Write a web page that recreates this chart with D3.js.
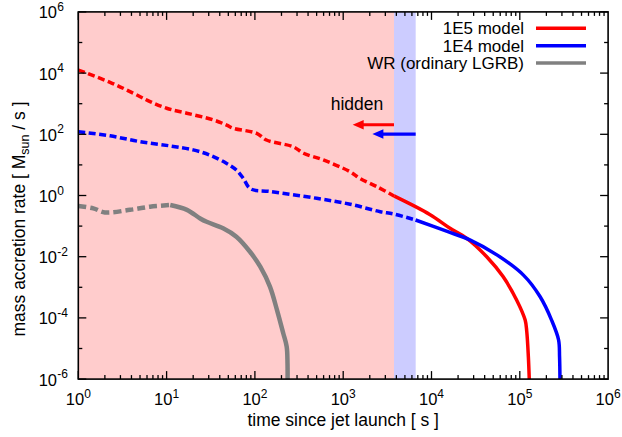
<!DOCTYPE html>
<html><head><meta charset="utf-8">
<script src="https://cdn.jsdelivr.net/npm/d3@7"></script>
<style>
html,body{margin:0;padding:0;background:#fff;}
svg{display:block;font-family:"Liberation Sans",Arial,Helvetica,sans-serif;}
</style></head>
<body><svg id="c" width="622" height="437"></svg>
<script>
// ---- data ----
const seriesNames = ["1E5 model", "1E4 model", "WR (ordinary LGRB)"];
const seriesColors = ["#ff0000", "#0000ff", "#808080"];
// time [s] and mass accretion rate [Msun/s]
const t1E5 = [1, 2.29, 4.2, 6.5, 10, 16.9, 33.9, 47.9, 56.9, 105, 135, 272, 355, 596, 1194, 1549, 2400, 3800, 9550, 16200, 25100, 42200, 64600, 92300, 115000, 120000, 125000, 128000];
const r1E5 = [1.26e4, 5.0e3, 2.2e3, 1.17e3, 710, 490, 295, 200, 158, 107, 65, 39, 24, 14.5, 6.0, 3.6, 1.95, 0.95, 0.24, 0.085, 0.040, 0.010, 2.24e-3, 3.8e-4, 8.5e-5, 3.5e-5, 5.4e-6, 1e-6];
const t1E4 = [1, 2.29, 5.0, 11, 20, 30.9, 47.9, 61.7, 74, 89, 148, 500, 1200, 2630, 3720, 6600, 14800, 27500, 55000, 110000, 170000, 229000, 275000, 282000, 285000];
const r1E4 = [122, 89, 57.5, 41.7, 31, 20.9, 11.2, 6.8, 3.6, 1.66, 1.35, 0.81, 0.52, 0.295, 0.25, 0.158, 0.068, 0.035, 0.0115, 2.5e-3, 4.9e-4, 8.5e-5, 1.9e-5, 5.4e-6, 1e-6];
const tWR = [1, 1.48, 2.0, 3.85, 6.5, 11, 17, 24, 28.4, 43.6, 61.7, 88, 115, 148, 178, 209, 229, 234, 234.5];
const rWR = [0.457, 0.38, 0.28, 0.34, 0.43, 0.49, 0.34, 0.178, 0.138, 0.085, 0.045, 0.0145, 4.7e-3, 1.05e-3, 1.8e-4, 3.2e-5, 1.15e-5, 3.3e-6, 1e-6];
// dashed ("hidden") part ends at these times
const dashEnds = [3800, 6600, 11];
// shaded hidden regions [t0, t1]
const pinkBand = [1, 3760];
const blueBand = [3760, 6620];
// arrows: start time, end time, rate level
const arrowFrom = [3760, 6620];
const arrowTo = [1280, 2140];
const arrowLevel = [205, 102];
const xTickExps = [0, 1, 2, 3, 4, 5, 6];
const yTickExps = [-6, -4, -2, 0, 2, 4, 6];

// ---- build ----
const svg = d3.select("#c");
const L = 78.3, R = 608.1, T = 11.9, B = 379.1;
const x = d3.scaleLog().domain([1, 1e6]).range([L, R]);
const y = d3.scaleLog().domain([1e-6, 1e6]).range([B, T]);

svg.append("rect").attr("width", 622).attr("height", 437).attr("fill", "#fff");
svg.append("defs").append("clipPath").attr("id", "clip")
  .append("rect").attr("x", L).attr("y", T).attr("width", R - L).attr("height", B - T);

svg.append("rect").attr("x", x(pinkBand[0])).attr("y", T)
  .attr("width", x(pinkBand[1]) - x(pinkBand[0])).attr("height", B - T).attr("fill", "#ffcccc");
svg.append("rect").attr("x", x(blueBand[0])).attr("y", T)
  .attr("width", x(blueBand[1]) - x(blueBand[0])).attr("height", B - T).attr("fill", "#ccccff");

const series = [
  {t: t1E5, r: r1E5}, {t: t1E4, r: r1E4}, {t: tWR, r: rWR}
];
const line = d3.line().x(d => x(d[0])).y(d => y(d[1])).curve(d3.curveCatmullRom.alpha(0.5));
const g = svg.append("g").attr("clip-path", "url(#clip)");
series.forEach((s, i) => {
  const pts = s.t.map((t, k) => [t, s.r[k]]);
  const dashPts = pts.filter(p => p[0] <= dashEnds[i]);
  const solidPts = pts.filter(p => p[0] >= dashEnds[i]);
  const w = i === 2 ? 4.5 : 3.5;
  g.append("path").attr("d", line(dashPts)).attr("fill", "none")
    .attr("stroke", seriesColors[i]).attr("stroke-width", w)
    .attr("stroke-dasharray", i === 2 ? "8,4" : "7,3.5");
  g.append("path").attr("d", line(solidPts)).attr("fill", "none")
    .attr("stroke", seriesColors[i]).attr("stroke-width", w).attr("stroke-linejoin", "round");
});

// arrows
arrowFrom.forEach((a, i) => {
  const x0 = x(a), x1 = x(arrowTo[i]), yy = y(arrowLevel[i]);
  svg.append("line").attr("x1", x0).attr("x2", x1 + 9).attr("y1", yy).attr("y2", yy)
    .attr("stroke", seriesColors[i]).attr("stroke-width", 3.2);
  svg.append("path").attr("d", `M${x1},${yy} L${x1 + 11},${yy - 4.7} L${x1 + 11},${yy + 4.7} Z`)
    .attr("fill", seriesColors[i]);
});
svg.append("text").attr("x", 330.7).attr("y", 110).attr("font-size", 17.5).attr("fill", "#000").text("hidden");

// frame and ticks
const ax = svg.append("g").attr("stroke", "#000").attr("stroke-width", 1.3);
for (let e = 0; e < 6; e++) {
  for (let m = 1; m < 10; m++) {
    const v = m * Math.pow(10, e);
    const len = m === 1 ? 8 : 4;
    const xx = x(v);
    ax.append("line").attr("x1", xx).attr("x2", xx).attr("y1", B).attr("y2", B - len);
    ax.append("line").attr("x1", xx).attr("x2", xx).attr("y1", T).attr("y2", T + len);
  }
}
for (let e = -6; e <= 6; e++) {
  const len = (e % 2 === 0) ? 8 : 4;
  const yy = y(Math.pow(10, e));
  ax.append("line").attr("x1", L).attr("x2", L + len).attr("y1", yy).attr("y2", yy);
  ax.append("line").attr("x1", R).attr("x2", R - len).attr("y1", yy).attr("y2", yy);
}
svg.append("rect").attr("x", L).attr("y", T).attr("width", R - L).attr("height", B - T)
  .attr("fill", "none").attr("stroke", "#000").attr("stroke-width", 1.6);

// tick labels
xTickExps.forEach(e => {
  const t = svg.append("text").attr("x", x(Math.pow(10, e))).attr("y", 405)
    .attr("text-anchor", "middle").attr("font-size", 16.5).attr("fill", "#000");
  t.append("tspan").text("10");
  t.append("tspan").attr("dy", -7.5).attr("font-size", 12).text(e);
});
yTickExps.forEach(e => {
  const yy = y(Math.pow(10, e)) + 6.5;
  svg.append("text").attr("x", 57).attr("y", yy).attr("text-anchor", "end")
    .attr("font-size", 16.5).attr("fill", "#000").text("10");
  svg.append("text").attr("x", 57.3).attr("y", yy - 7.5).attr("text-anchor", "start")
    .attr("font-size", 12).attr("fill", "#000").text(e);
});

// axis titles
svg.append("text").attr("x", (L + R) / 2).attr("y", 426).attr("text-anchor", "middle")
  .attr("font-size", 17.5).attr("fill", "#000").text("time since jet launch [ s ]");
const yt = svg.append("text").attr("transform", "translate(25,219) rotate(-90)")
  .attr("text-anchor", "middle").attr("font-size", 17.5).attr("fill", "#000");
yt.append("tspan").text("mass accretion rate [ M");
yt.append("tspan").attr("dy", 4).attr("font-size", 12.5).text("sun");
yt.append("tspan").attr("dy", -4).text(" / s ]");

// legend
seriesNames.forEach((n, i) => {
  const cy = 28.3 + i * 17.4;
  svg.append("text").attr("x", 524).attr("y", cy + 6).attr("text-anchor", "end")
    .attr("font-size", 17).attr("fill", "#000").text(n);
  svg.append("line").attr("x1", 536).attr("x2", 586).attr("y1", cy).attr("y2", cy)
    .attr("stroke", seriesColors[i]).attr("stroke-width", 3.5);
});
</script></body></html>
